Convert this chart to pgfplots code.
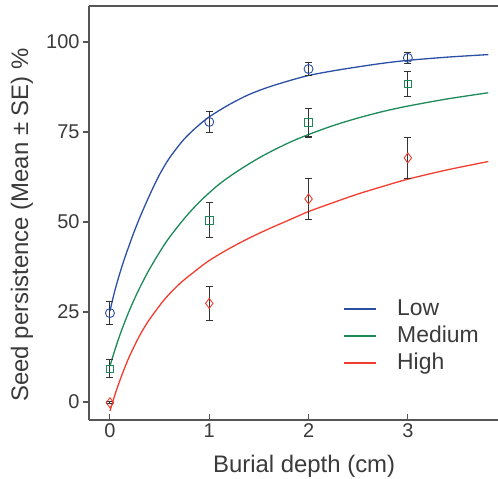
\documentclass[border=0pt]{standalone}
\usepackage{fontspec}
\setmainfont{Liberation Sans}
\usepackage{pgfplots}
\pgfplotsset{compat=1.18}
\definecolor{cLow}{HTML}{2A4FA5}
\definecolor{cMed}{HTML}{1C8A58}
\definecolor{cHigh}{HTML}{F23D2E}
\definecolor{txt}{HTML}{3A3A3A}
\definecolor{axc}{HTML}{555555}
\definecolor{ebc}{HTML}{333333}
\begin{document}
\begin{tikzpicture}
\begin{axis}[
 scale only axis, width=409bp, height=414bp,
 xmin=-0.211, xmax=3.908, ymin=-5, ymax=110,
 axis x line=box, axis y line=left,
 axis line style={-, axc, line width=1.1pt},
 xtick={0,1,2,3}, ytick={0,25,50,75,100},
 xtick pos=left,
 xtick align=inside, ytick align=outside,
 major tick length=6bp,
 tick style={axc, line width=1.1pt},
 ticklabel style={font=\fontsize{20}{24}\selectfont, text=txt},
 /pgf/number format/assume math mode=true,
 xlabel={Burial depth (cm)}, ylabel={Seed persistence (Mean ± SE) \%},
 every axis x label/.style={at={(axis description cs:0.526,-0.128)}, anchor=base,
   font=\fontsize{24}{28}\selectfont, text=txt},
 every axis y label/.style={at={(axis description cs:-0.164,0.471)}, rotate=90, anchor=center,
   font=\fontsize{24}{28}\selectfont, text=txt},
 legend style={draw=none, fill=none, at={(axis cs:2.346,29.6)}, anchor=north west, inner sep=0pt,
   font=\fontsize{23}{27}\selectfont, text=txt, row sep=0pt,
   nodes={inner sep=2.5pt, text height=17bp, text depth=5bp},
   /tikz/every odd column/.append style={column sep=18bp}},
 legend image code/.code={\draw[#1] (0bp,0bp) -- (32bp,0bp);},
 legend cell align=left,
]
% fitted curves
\addplot[cLow, line width=1.3pt, smooth, forget plot] coordinates {
 (0,25.3) (0.05,31) (0.1,35.8) (0.15,40.1) (0.23,46.3) (0.3,51.2) (0.4,57.5) (0.5,63.2)
 (0.6,67.8) (0.74,72.8) (0.87,76.3) (1.0,79.2) (1.2,82.6) (1.4,85.4) (1.6,87.5) (1.8,89.2)
 (2.0,90.7) (2.25,92) (2.5,93.1) (2.75,94.1) (3.0,94.9) (3.4,95.8) (3.81,96.5)};
\addplot[cMed, line width=1.3pt, smooth, forget plot] coordinates {
 (0,10) (0.05,14.5) (0.1,18.6) (0.15,22.3) (0.2,25.7) (0.28,30.6) (0.4,37) (0.57,44.6)
 (0.75,51) (0.91,55.8) (1.1,60.5) (1.3,64.4) (1.54,68.4) (1.8,72) (2.0,74.3) (2.25,76.8)
 (2.5,78.9) (2.75,80.7) (3.0,82.2) (3.4,84.2) (3.81,85.9)};
\addplot[cHigh, line width=1.3pt, smooth, forget plot] coordinates {
 (0,-2.5) (0.05,2) (0.1,6) (0.15,9.6) (0.2,12.9) (0.3,18.5) (0.4,23) (0.55,28.5) (0.7,32.8)
 (0.85,36.2) (1.0,39.3) (1.2,42.6) (1.4,45.5) (1.6,48.1) (1.8,50.5) (2.0,52.9) (2.25,55.4)
 (2.5,57.8) (2.75,59.9) (3.0,61.9) (3.4,64.5) (3.81,66.8)};
% observed means with SE
\pgfplotsset{ebstyle/.style={error bars/.cd, y dir=both, y explicit,
  error bar style={ebc, line width=1.1pt},
  error mark options={rotate=90, ebc, mark size=3.5bp, line width=1.1pt}}}
\addplot[only marks, forget plot, mark=o, mark size=4.5bp, cLow, mark options={line width=0.9pt}, ebstyle]
 coordinates {(0,24.7) +- (0,3.2) (1,77.8) +- (0,3.0) (2,92.5) +- (0,1.8) (3,95.6) +- (0,1.5)};
\addplot[only marks, forget plot, mark=square, mark size=3.8bp, cMed, mark options={line width=0.9pt}, ebstyle]
 coordinates {(0,9.2) +- (0,2.5) (1,50.5) +- (0,4.8) (2,77.6) +- (0,4.0) (3,88.3) +- (0,3.5)};
\addplot[only marks, forget plot, mark=diamond, mark size=5bp, cHigh, mark options={line width=0.9pt}, ebstyle]
 coordinates {(0,-0.2) +- (0,0.3) (1,27.4) +- (0,4.8) (2,56.4) +- (0,5.8) (3,67.8) +- (0,5.7)};
\addlegendimage{cLow, line width=1.6pt}
\addlegendentry{Low}
\addlegendimage{cMed, line width=1.6pt}
\addlegendentry{Medium}
\addlegendimage{cHigh, line width=1.6pt}
\addlegendentry{High}
\end{axis}
\pgfresetboundingbox
\useasboundingbox (-89bp,-59bp) rectangle (409bp,420bp);
\end{tikzpicture}
\end{document}
